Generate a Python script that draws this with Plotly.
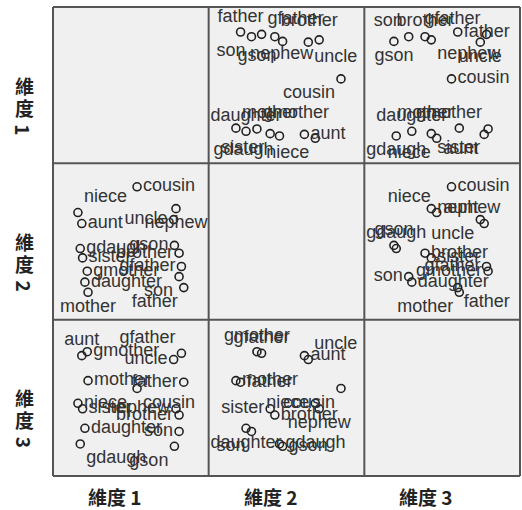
import plotly.graph_objects as go
from plotly.subplots import make_subplots

# kinship terms and their 3-dimensional coordinates
terms = ["aunt", "brother", "cousin", "daughter", "father", "gdaugh", "gfather",
         "gmother", "gson", "mother", "nephew", "niece", "sister", "son", "uncle"]
dim1 = [-0.63, 0.62, 0.08, -0.59, 0.68, -0.65, 0.65, -0.56, 0.56, -0.55, 0.58, -0.68, -0.62, 0.62, 0.55]
dim2 = [0.23, -0.15, 0.70, -0.52, -0.59, -0.09, -0.32, -0.38, -0.05, -0.65, 0.42, 0.37, -0.21, -0.45, 0.28]
dim3 = [0.54, -0.22, 0.12, -0.39, 0.20, -0.59, 0.57, 0.59, -0.62, 0.22, -0.14, -0.07, -0.14, -0.43, 0.49]
dim_titles = ["維度 1", "維度 2", "維度 3"]

dims = [dim1, dim2, dim3]

# label placement per panel (row, col), in the order of `terms`
pos_names = {"tl": "top left", "tc": "top center", "tr": "top right",
             "ml": "middle left", "mr": "middle right",
             "bl": "bottom left", "bc": "bottom center", "br": "bottom right"}
label_pos = {
    (1, 2): "mr tr bl tc tc bl tr tr bl tr bl bl bl bl br",
    (1, 3): "bl tc mr tc mr bc tl tl bc tl br bl br tl bc",
    (2, 1): "mr ml mr mr bl mr ml mr ml bc bc tr mr bl ml",
    (2, 3): "tl mr mr mr br tc ml ml tc bl mr tl mr ml bl",
    (3, 1): "tc ml br mr ml br tl mr bl mr ml mr mr ml ml",
    (3, 2): "mr mr bl bc mr mr tc tc mr mr bc ml ml bl tr",
}

W, H = 522, 510
L, R, T, B = 53, 2, 7, 34
pw, ph = W - L - R, H - T - B


def paper_x(px):
    return (px - L) / pw


def paper_y(py):
    return (H - B - py) / ph


fig = make_subplots(rows=3, cols=3, horizontal_spacing=0, vertical_spacing=0)

for (row, col), codes in label_pos.items():
    fig.add_trace(
        go.Scatter(
            x=dims[col - 1],
            y=dims[row - 1],
            mode="markers+text",
            text=terms,
            textposition=[pos_names[c] for c in codes.split()],
            textfont=dict(family="Liberation Sans, Arial", size=18, color="#333333"),
            marker=dict(symbol="circle-open", size=8, color="#222222", line=dict(width=1.6)),
            hoverinfo="text",
            showlegend=False,
        ),
        row=row, col=col,
    )

fig.update_xaxes(range=[-1, 1], showgrid=False, zeroline=False, showticklabels=False,
                 ticks="", showline=False, fixedrange=True)
fig.update_yaxes(range=[-1, 1], showgrid=False, zeroline=False, showticklabels=False,
                 ticks="", showline=False, fixedrange=True)

# panel background and frame
fig.add_shape(type="rect", xref="paper", yref="paper", x0=0, x1=1, y0=0, y1=1,
              fillcolor="#f0f0f0", line=dict(width=0), layer="below")
for k in range(4):
    fig.add_shape(type="line", xref="paper", yref="paper", x0=k / 3, x1=k / 3, y0=0, y1=1,
                  line=dict(color="#555555", width=2))
    fig.add_shape(type="line", xref="paper", yref="paper", x0=0, x1=1, y0=k / 3, y1=k / 3,
                  line=dict(color="#555555", width=2))

bold_cjk = dict(family="Noto Sans CJK TC", size=19, color="#222222")
for i, t in enumerate(dim_titles):
    # column titles under the matrix
    fig.add_annotation(text="<b>" + t + "</b>", xref="paper", yref="paper",
                       x=(i + 0.5) / 3 - 16 / pw, y=paper_y(497), showarrow=False,
                       xanchor="center", yanchor="middle", font=bold_cjk)
    # row titles written vertically, digit turned
    yc = T + ph * (i + 0.5) / 3
    word, digit = t.split()
    for k, ch in enumerate(word):
        fig.add_annotation(text="<b>" + ch + "</b>", xref="paper", yref="paper",
                           x=paper_x(24), y=paper_y(yc + 22 * k), showarrow=False,
                           xanchor="center", yanchor="middle", font=bold_cjk)
    fig.add_annotation(text="<b>" + digit + "</b>", xref="paper", yref="paper",
                       x=paper_x(24), y=paper_y(yc + 44), showarrow=False, textangle=90,
                       xanchor="center", yanchor="middle", font=bold_cjk)

fig.update_layout(
    width=W, height=H,
    margin=dict(l=L, r=R, t=T, b=B),
    paper_bgcolor="white",
    plot_bgcolor="rgba(0,0,0,0)",
)

fig.write_html("out.html", config={"displayModeBar": False},
               post_script="document.body.style.margin='0';")
